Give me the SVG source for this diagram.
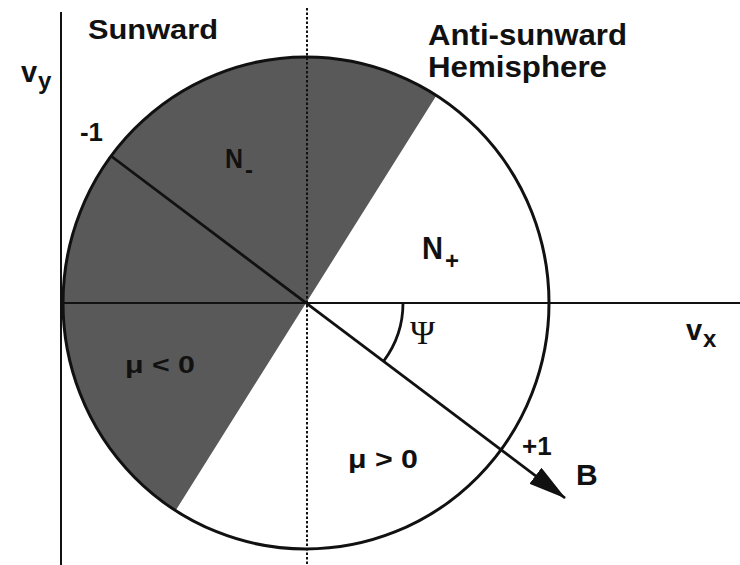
<svg xmlns="http://www.w3.org/2000/svg" width="740" height="565" viewBox="0 0 740 565">
<style>
.t{font-family:"Liberation Sans",Arial,sans-serif;font-weight:bold;fill:#111}
.ln{stroke:#111;fill:none}
</style>
<defs>
<marker id="arr" markerUnits="userSpaceOnUse" markerWidth="42" markerHeight="22" refX="37" refY="10" orient="auto">
<path d="M0,0 L38,10 L0,20 Z" fill="#111"/>
</marker>
</defs>
<rect width="740" height="565" fill="#fff"/>
<g id="shaded">
<path d="M306 303 L436.4 95.4 A243 246 0 0 0 63 303 A243 246 0 0 0 175.6 510.6 Z" fill="#595959"/>
</g>
<g id="axes">
<line class="ln" x1="61" y1="12" x2="61" y2="565" stroke-width="2"/>
<line class="ln" x1="62" y1="303" x2="740" y2="303" stroke-width="2"/>
<line class="ln" x1="307" y1="8" x2="307" y2="565" stroke-width="2" stroke-dasharray="2.5,2"/>
</g>
<g id="circle">
<ellipse cx="306" cy="303" rx="243" ry="246" class="ln" stroke-width="3"/>
</g>
<g id="connectors">
<line class="ln" x1="111" y1="156" x2="565" y2="498" stroke-width="2.8" marker-end="url(#arr)"/>
<path class="ln" d="M403 303 A97 97 0 0 1 383.5 361.3" stroke-width="2.8"/>
</g>
<g id="labels">
<text class="t" x="88" y="39" font-size="28" textLength="130" lengthAdjust="spacingAndGlyphs">Sunward</text>
<text class="t" x="428" y="45" font-size="29" textLength="199" lengthAdjust="spacingAndGlyphs">Anti-sunward</text>
<text class="t" x="428" y="77" font-size="29" textLength="179" lengthAdjust="spacingAndGlyphs">Hemisphere</text>
<text class="t" x="21" y="82" font-size="29">v</text>
<text class="t" x="38" y="89" font-size="24">y</text>
<text class="t" x="686" y="340" font-size="29">v</text>
<text class="t" x="703" y="347" font-size="24">x</text>
<text class="t" x="80" y="141" font-size="25" textLength="23" lengthAdjust="spacingAndGlyphs">-1</text>
<text class="t" x="522" y="455" font-size="26">+1</text>
<text class="t" x="576" y="485" font-size="30">B</text>
<text class="t" x="225" y="168" font-size="28" textLength="18" lengthAdjust="spacingAndGlyphs">N</text>
<text class="t" x="245" y="178" font-size="24">-</text>
<text class="t" x="422" y="259" font-size="32" textLength="21" lengthAdjust="spacingAndGlyphs">N</text>
<text class="t" x="445" y="269" font-size="24">+</text>
<text class="t" x="125" y="373" font-size="24" textLength="70" lengthAdjust="spacingAndGlyphs">μ &lt; 0</text>
<text class="t" x="348" y="468" font-size="25" textLength="70" lengthAdjust="spacingAndGlyphs">μ &gt; 0</text>
<text x="410" y="344" font-size="34" font-family="'Liberation Serif','Times New Roman',serif" fill="#111">Ψ</text>
</g>
</svg>
